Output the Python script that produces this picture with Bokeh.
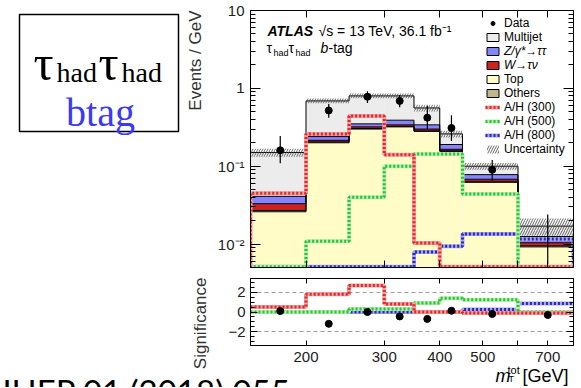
import numpy as np
from bokeh.plotting import figure
from bokeh.models import (FixedTicker, LogAxis, LinearAxis, Label, BoxAnnotation, Legend,
                          LegendItem, Range1d, Grid, CustomJSTickFormatter, LogScale, LinearScale)
from bokeh.layouts import column, row
from bokeh.embed import file_html
from bokeh.resources import INLINE

# ---------------- data ----------------
edges = [150, 200, 250, 300, 350, 400, 450, 600, 800]
data_y = [0.16, 0.52, 0.78, 0.69, 0.42, 0.31, 0.09, 0.0]
data_lo = [0.109, 0.42, 0.65, 0.57, 0.30, 0.21, 0.065, 0.0055]
data_hi = [0.245, 0.63, 0.92, 0.82, 0.60, 0.45, 0.12, 0.024]

bkg_top = [0.026, 0.20, 0.30, 0.32, 0.28, 0.155, 0.062, 0.0092]
bkg_others = [0.001, 0.005, 0.005, 0.005, 0.005, 0.003, 0.002, 0.0003]
bkg_wtaunu = [0.006, 0.010, 0.015, 0.015, 0.015, 0.007, 0.004, 0.0009]
bkg_ztautau = [0.008, 0.025, 0.030, 0.050, 0.040, 0.025, 0.010, 0.0021]
bkg_multijet = [0.109, 0.45, 0.45, 0.41, 0.22, 0.07, 0.022, 0.0045]
unc_rel = [0.12, 0.07, 0.07, 0.07, 0.10, 0.10, 0.10, 0.25]

sig_300 = [0.045, 0.26, 0.44, 0.14, 0.0103, 0.0051, 0.0051, 0.0051]
sig_500 = [0.0051, 0.0109, 0.040, 0.10, 0.143, 0.143, 0.044, 0.0051]
sig_800 = [0.0051, 0.0051, 0.0051, 0.0051, 0.0079, 0.0094, 0.0135, 0.0116]

signif_data = [0.1, -1.2, 0.0, -0.45, -0.7, 0.13, -0.2, -0.3]
signif_300 = [0.5, 1.8, 2.7, 0.8, 0.0, 0.0, -0.1, -0.1]
signif_500 = [0.0, 0.0, 0.3, 0.3, 0.92, 1.4, 1.25, 0.0]
signif_800 = [0.0, 0.0, 0.0, 0.0, 0.0, 0.0, 0.25, 0.87]

x_ticks = [200, 300, 400, 500, 600, 700]
x_tick_labels = {200: "200", 300: "300", 400: "400", 500: "500", 700: "700"}
y_ticks = [0.01, 0.1, 1, 10]
y_tick_labels = {0.01: "10\u207b\u00b2", 0.1: "10\u207b\u00b9", 1: "1", 10: "10"}
r_ticks = [-2, 0, 2]
r_tick_labels = {-2: "\u22122", 0: "0", 2: "2"}

# ---------------- style / geometry (page pixels) ----------------
YMIN, YMAX = 0.005, 10
RMIN, RMAX = -3.4, 3.4
XMIN, XMAX = 150, 800
FONT = "Liberation Sans"
SERIF = "Liberation Serif"
C_MJ, C_Z, C_W, C_TOP, C_OTH = "#ececec", "#8585ff", "#cc2222", "#fffcc8", "#bfb68a"
SIG = {300: ("#f2a0a0", "#dd2a2a"), 500: ("#b4efb4", "#2fbf2f"), 800: ("#a8a8f0", "#2a2ab8")}

W_PAGE, H_PAGE = 581, 387
FL, FW = 250, 323             # frame left / width (page px)
RB_W = W_PAGE - FL - FW       # right border
MT, MB = 10, 267              # main frame top / bottom
RT, RB = 278, 345             # ratio frame top / bottom
P_H = 276                     # main figure bottom
R_H_BOT = 347                 # ratio figure bottom
JHEP_BASE = 390

def style_axis(ax, tin=8, minin=4):
    ax.major_tick_in = tin
    ax.major_tick_out = 0
    ax.minor_tick_in = minin
    ax.minor_tick_out = 0
    ax.axis_line_color = "black"
    ax.major_tick_line_color = "black"
    ax.minor_tick_line_color = "black"
    ax.formatter = CustomJSTickFormatter(code="return ''")
    ax.major_label_text_font_size = "1px"
    ax.major_label_standoff = 0

def lab(fig, bottom, X, Y, text, size, font=FONT, style="normal", color="black",
        align="left", baseline="alphabetic", angle=0.0):
    fig.add_layout(Label(x=X - FL, y=bottom - Y, x_units="screen", y_units="screen",
                         text=text, text_font=font, text_font_size=f"{size}px",
                         text_font_style=style, text_color=color, text_align=align,
                         text_baseline=baseline, angle=angle))

xr = Range1d(XMIN, XMAX)

def data_fig(y_type, yr, top, fh, bottom):
    f = figure(x_axis_type="log", y_axis_type=y_type, x_range=xr, y_range=yr,
               frame_width=FW, frame_height=fh, min_border_left=0, min_border_right=RB_W,
               min_border_top=top, min_border_bottom=bottom,
               x_axis_location=None, y_axis_location=None,
               output_backend="svg", toolbar_location=None)
    f.grid.visible = False
    f.outline_line_color = "black"
    return f

# ---------------- main panel ----------------
p = data_fig("log", Range1d(YMIN, YMAX), MT, MB - MT, P_H - MB)
ymin_ticks = [k * 10.0 ** e for e in range(-3, 1) for k in range(2, 10) if YMIN <= k * 10.0 ** e <= YMAX]
for loc in ("left", "right"):
    ax = LogAxis(ticker=FixedTicker(ticks=y_ticks, minor_ticks=ymin_ticks))
    style_axis(ax, 10, 5)
    p.add_layout(ax, loc)
for loc in ("below", "above"):
    ax = LogAxis(ticker=FixedTicker(ticks=x_ticks, minor_ticks=[]))
    style_axis(ax, 7, 3)
    p.add_layout(ax, loc)

left, right = edges[:-1], edges[1:]
centers = [(a + b) / 2 for a, b in zip(left, right)]
layers = [bkg_top, bkg_others, bkg_wtaunu, bkg_ztautau, bkg_multijet]
colors = [C_TOP, C_OTH, C_W, C_Z, C_MJ]
cum = np.cumsum(np.array(layers), axis=0)
prev = np.full(len(left), 1e-4)
for c, col in zip(cum, colors):
    p.quad(left=left, right=right, bottom=prev, top=c, fill_color=col, line_color=None)
    prev = c
for c in cum:
    p.step(x=edges, y=list(c) + [c[-1]], mode="after", line_color="black", line_width=1)

total = cum[-1]
unc = p.quad(left=left, right=right, bottom=total * (1 - np.array(unc_rel)),
             top=total * (1 + np.array(unc_rel)), fill_alpha=0, line_color=None,
             hatch_pattern="/", hatch_color="#444444", hatch_scale=5, hatch_weight=0.8)

sig_r = {}
for m, vals in ((800, sig_800), (500, sig_500), (300, sig_300)):
    xs = [edges[0]] + edges + [edges[-1]]
    ys = [YMIN] + vals + [vals[-1], YMIN]
    light, dark = SIG[m]
    r1 = p.step(x=xs, y=ys, mode="after", line_color=light, line_width=4)
    r2 = p.step(x=xs, y=ys, mode="after", line_color=dark, line_width=3, line_dash="2 2")
    sig_r[m] = [r1, r2]

p.segment(x0=centers, y0=data_lo, x1=centers, y1=data_hi, line_color="black", line_width=1.2)
dy = np.array(data_y, dtype=float)
dots = p.scatter(centers, np.where(dy > 0, dy, np.nan), size=7, color="black")

def dummy(col):  # legend-only boxes, outside the visible range
    return p.quad(left=[1000], right=[1001], bottom=[1], top=[2], fill_color=col,
                  line_color="black", line_width=1)
d_mj, d_z, d_w, d_top, d_oth = (dummy(c) for c in (C_MJ, C_Z, C_W, C_TOP, C_OTH))

def make_legend(items, top_y, style):
    n = len(items)
    lg = Legend(items=[LegendItem(label=t, renderers=r) for t, r in items],
                location=(485 - FL, MB - (top_y + 14 * n)), padding=0, margin=0, spacing=0,
                glyph_width=15, glyph_height=10, label_height=14, label_standoff=4,
                label_text_font=FONT, label_text_font_size="12px", label_text_font_style=style,
                label_text_color="black", border_line_alpha=0, background_fill_alpha=0)
    p.add_layout(lg)

make_legend([("Data", [dots]), ("Multijet", [d_mj])], 16, "normal")
make_legend([("Z/\u03b3*\u2192\u03c4\u03c4", [d_z]), ("W\u2192\u03c4\u03bd", [d_w])], 44, "italic")
make_legend([("Top", [d_top]), ("Others", [d_oth]), ("A/H (300)", sig_r[300]),
             ("A/H (500)", sig_r[500]), ("A/H (800)", sig_r[800]), ("Uncertainty", [unc])], 72, "normal")

lab(p, MB, 267, 30, "ATLAS", 14, style="bold italic")
lab(p, MB, 318, 30, "\u221as = 13 TeV, 36.1 fb\u207b\u00b9", 14)
lab(p, MB, 266, 47, "\u03c4", 14)
lab(p, MB, 273, 52, "had", 9)
lab(p, MB, 288, 47, "\u03c4", 14)
lab(p, MB, 295, 52, "had", 9)
lab(p, MB, 320, 47, "b", 14, style="italic")
lab(p, MB, 328, 47, "-tag", 14)

# ---------------- ratio panel ----------------
r = data_fig("linear", Range1d(RMIN, RMAX), RT - P_H, RB - RT, R_H_BOT - RB)
r.add_layout(Grid(dimension=1, ticker=FixedTicker(ticks=r_ticks), grid_line_color="#9a9a9a",
                  grid_line_dash="4 3", grid_line_width=1))
rminor = [v * 0.5 for v in range(-6, 7) if v % 4 != 0]
for loc in ("left", "right"):
    ax = LinearAxis(ticker=FixedTicker(ticks=r_ticks, minor_ticks=rminor))
    style_axis(ax, 7, 4)
    r.add_layout(ax, loc)
for loc in ("below", "above"):
    ax = LogAxis(ticker=FixedTicker(ticks=x_ticks, minor_ticks=[]))
    style_axis(ax, 5, 3)
    r.add_layout(ax, loc)

for m, vals in ((800, signif_800), (500, signif_500), (300, signif_300)):
    light, dark = SIG[m]
    r.step(x=edges, y=vals + [vals[-1]], mode="after", line_color=light, line_width=4)
    r.step(x=edges, y=vals + [vals[-1]], mode="after", line_color=dark, line_width=3, line_dash="2 2")
r.scatter(centers, signif_data, size=7, color="black")

# ---------------- bottom strip: x tick labels, axis title, reference ----------------
Bx = figure(x_axis_type="log", x_range=xr, y_range=Range1d(0, 1),
            frame_width=FW, frame_height=H_PAGE - R_H_BOT, min_border_left=0,
            min_border_right=RB_W, min_border_top=0, min_border_bottom=0,
            x_axis_location=None, y_axis_location=None,
            output_backend="svg", toolbar_location=None)
Bx.grid.visible = False
Bx.outline_line_color = None
for t, txt in x_tick_labels.items():
    Bx.add_layout(Label(x=t, y=H_PAGE - 356, x_units="data", y_units="screen", text=txt,
                        text_font=FONT, text_font_size="15px", text_color="#222222",
                        text_align="center", text_baseline="middle"))
lab(Bx, H_PAGE, -3, JHEP_BASE, "JHEP 01 (2018) 055", 33, font="Lato")
lab(Bx, H_PAGE, 495, 375, "m", 18, style="italic")
lab(Bx, H_PAGE, 507, 369, "tot", 11)
lab(Bx, H_PAGE, 508, 378, "T", 9)
lab(Bx, H_PAGE, 522, 375, "[GeV]", 18)

# ---------------- left text column (incl. y tick labels, via aligned scales) ----------------
dec_px = (MB - MT) / np.log10(YMAX / YMIN)
logy_lo = YMIN * 10 ** (-(H_PAGE - MB) / dec_px)
logy_hi = YMAX * 10 ** (MT / dec_px)
r_per_px = (RMAX - RMIN) / (RB - RT)
ry_lo = RMIN - (H_PAGE - RB) * r_per_px
ry_hi = RMAX + RT * r_per_px

Lc = figure(width=FL, height=H_PAGE, x_range=Range1d(0, FL), y_range=Range1d(H_PAGE, 0),
            extra_y_ranges={"logy": Range1d(logy_lo, logy_hi), "ry": Range1d(ry_lo, ry_hi)},
            extra_y_scales={"logy": LogScale(), "ry": LinearScale()},
            min_border=0, x_axis_location=None, y_axis_location=None,
            output_backend="svg", toolbar_location=None)
Lc.grid.visible = False
Lc.outline_line_color = None

def plab(X, Y, text, size, font=FONT, style="normal", color="black",
         align="left", baseline="alphabetic", angle=0.0, yname="default"):
    Lc.add_layout(Label(x=X, y=Y, text=text, text_font=font, text_font_size=f"{size}px",
                        text_font_style=style, text_color=color, text_align=align,
                        text_baseline=baseline, angle=angle, y_range_name=yname))

for t, txt in y_tick_labels.items():
    plab(FL - 6, t, txt, 15, color="#222222", align="right", baseline="middle", yname="logy")
for t, txt in r_tick_labels.items():
    plab(FL - 5, t, txt, 15, color="#222222", align="right", baseline="middle", yname="ry")

Lc.add_layout(BoxAnnotation(left=19, right=178, top=14, bottom=131, fill_alpha=0,
                            line_color="black", line_alpha=1.0, line_width=1.5))
plab(33, 62, "\u03c4", 50, font=SERIF)
plab(56, 72, "had", 28, font=SERIF)
plab(98, 62, "\u03c4", 50, font=SERIF)
plab(121, 72, "had", 28, font=SERIF)
plab(100, 112, "btag", 40, font=SERIF, color="#3a3af5", align="center")
plab(195, 10, "Events / GeV", 17, color="#333333", align="right", baseline="middle", angle=np.pi / 2)
plab(200, 277, "Significance", 17, color="#333333", align="right", baseline="middle", angle=np.pi / 2)
plab(-3, JHEP_BASE, "JHEP 01 (2018) 055", 33, font="Lato")

layout = row(Lc, column(p, r, Bx, spacing=0), spacing=0)
open("out.html", "w").write(file_html(layout, INLINE))
